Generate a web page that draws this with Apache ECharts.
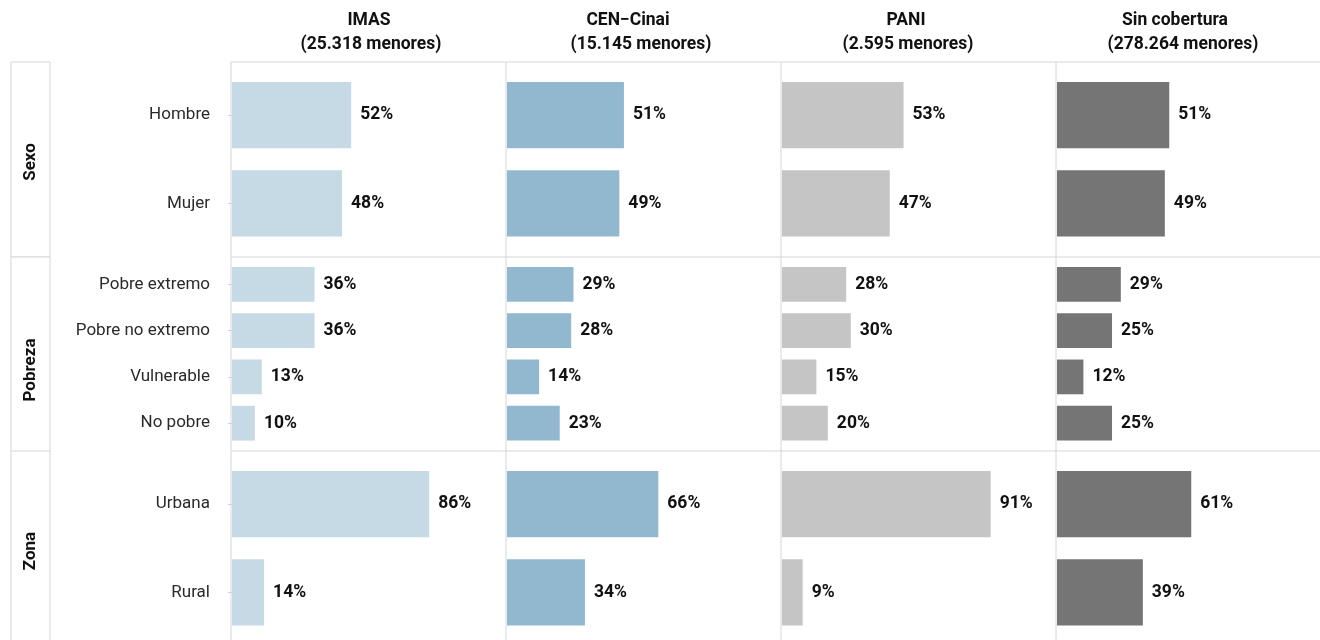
<!DOCTYPE html>
<html>
<head>
<meta charset="utf-8">
<title>Cobertura de cuido por grupo</title>
<script src="https://cdn.jsdelivr.net/npm/echarts@6/dist/echarts.min.js"></script>
<style>
  html, body { margin: 0; padding: 0; background: #fff; }
  #chart { width: 1320px; height: 640px; }
</style>
</head>
<body>
<div id="chart"></div>
<script>
// datos
var coberturas = ['IMAS', 'CEN\u2212Cinai', 'PANI', 'Sin cobertura'];
var menores = ['25.318', '15.145', '2.595', '278.264'];
var grupos = ['Sexo', 'Pobreza', 'Zona'];
var categorias = [
    ['Hombre', 'Mujer'],
    ['Pobre extremo', 'Pobre no extremo', 'Vulnerable', 'No pobre'],
    ['Urbana', 'Rural']
];
// porcentajes por cobertura (IMAS, CEN-Cinai, PANI, Sin cobertura)
var sexo = [[52, 48], [51, 49], [53, 47], [51, 49]];
var pobreza = [[36, 36, 13, 10], [29, 28, 14, 23], [28, 30, 15, 20], [29, 25, 12, 25]];
var zona = [[86, 14], [66, 34], [91, 9], [61, 39]];
var colores = ['#c6dae5', '#91b8ce', '#c5c5c5', '#757575'];

var valores = [sexo, pobreza, zona];

// layout de paneles
var FONT = 'Roboto, "Noto Sans", sans-serif';
var panelX = 231, panelW = 275, rowTop = 62, rowH = 194.5;
var lineColor = '#d6d6d6';
var headName = [369, 628, 906, 1175];   // centro de la primera linea del encabezado
var headCount = [371, 641, 908, 1183];  // centro de la segunda linea
var stripMid = [162, 370, 551];         // centro del texto de cada franja

function buildOption() {
    var grids = [], xAxes = [], yAxes = [], series = [], graphics = [];

    for (var r = 0; r < grupos.length; r++) {
        var n = categorias[r].length;
        var unit = rowH / (n + 0.2);          // separacion entre categorias
        var rowY = rowTop + r * rowH;
        var lineY = Math.round(rowY);
        for (var c = 0; c < coberturas.length; c++) {
            var idx = grids.length;
            grids.push({
                left: panelX + c * panelW + 1,
                top: rowY + 0.1 * unit,
                width: panelW - 1,
                height: n * unit
            });
            xAxes.push({
                type: 'value', gridIndex: idx, min: 0, max: 119.5,
                show: false
            });
            yAxes.push({
                type: 'category', gridIndex: idx, inverse: true,
                data: categorias[r],
                axisLine: { show: false },
                axisTick: {
                    show: c === 0, alignWithLabel: true, length: 4,
                    lineStyle: { color: '#d0d0d0' }
                },
                axisLabel: {
                    show: c === 0, margin: 22, color: '#2a2a2a',
                    fontFamily: FONT, fontSize: 17
                },
                splitLine: { show: false }
            });
            series.push({
                type: 'bar', xAxisIndex: idx, yAxisIndex: idx,
                data: valores[r][c],
                barCategoryGap: '25%',
                itemStyle: { color: colores[c] },
                silent: true,
                label: {
                    show: true, position: 'right', distance: 9,
                    formatter: '{c}%',
                    color: '#111111', fontWeight: 'bold',
                    fontFamily: FONT, fontSize: 17.5
                }
            });
        }

        // franja lateral del grupo
        graphics.push({
            type: 'rect', silent: true,
            shape: { x: 11, y: lineY, width: 39, height: Math.round(rowH) },
            style: { fill: '#fff', stroke: lineColor, lineWidth: 1 }
        });
        graphics.push({
            type: 'text', silent: true, x: 31, y: stripMid[r], rotation: Math.PI / 2,
            style: {
                text: grupos[r], fill: '#111', font: 'bold 17px ' + FONT,
                textAlign: 'center', textVerticalAlign: 'middle'
            }
        });
        // linea horizontal superior de la fila
        graphics.push({
            type: 'line', silent: true,
            shape: { x1: panelX, y1: lineY, x2: 1320, y2: lineY },
            style: { stroke: lineColor, lineWidth: 1 }
        });
    }

    // lineas verticales de los paneles y encabezados
    for (var c = 0; c < coberturas.length; c++) {
        graphics.push({
            type: 'line', silent: true,
            shape: { x1: panelX + c * panelW, y1: rowTop, x2: panelX + c * panelW, y2: 640 },
            style: { stroke: lineColor, lineWidth: 1 }
        });
        graphics.push({
            type: 'text', silent: true, x: headName[c], y: 21,
            style: {
                text: coberturas[c], fill: '#111', font: 'bold 17.5px ' + FONT,
                textAlign: 'center', textVerticalAlign: 'middle'
            }
        });
        graphics.push({
            type: 'text', silent: true, x: headCount[c], y: 45,
            style: {
                text: '(' + menores[c] + ' menores)', fill: '#111', font: 'bold 17.5px ' + FONT,
                textAlign: 'center', textVerticalAlign: 'middle'
            }
        });
    }

    return {
        animation: false,
        backgroundColor: '#ffffff',
        grid: grids,
        xAxis: xAxes,
        yAxis: yAxes,
        series: series,
        graphic: graphics
    };
}

var chart = echarts.init(document.getElementById('chart'), null, { renderer: 'canvas' });
chart.setOption(buildOption());
</script>
</body>
</html>
